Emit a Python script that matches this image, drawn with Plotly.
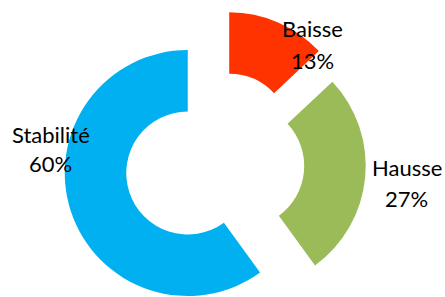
import plotly.graph_objects as go

labels = ["Baisse", "Hausse", "Stabilité"]
values = [13, 27, 60]
colors = ["#FF3300", "#9BBB59", "#00B0F0"]
pulls = [0.25, 0.21, 0.25]

# layout constants (window pixels)
OFF = 0
FIG_W, FIG_H = 445, 320
CX, CY = 217.2, 163.5          # pie centre in window pixels
RADIUS = 123                   # outer radius in pixels
HALF = RADIUS * (1 + max(pulls))
ML, MT, MB = 0, 0, 0
PW = 2 * (CX - OFF - ML)
MR = FIG_W - ML - PW
PH = FIG_H - MT - MB
box_top = CY - OFF - HALF
box_bot = CY - OFF + HALF

# label anchor positions in window pixels: (x, y_label, y_percent)
label_pos = [(313, 28, 60), (407, 167, 198), (51, 134, 163)]

fig = go.Figure(
    go.Pie(
        labels=labels,
        values=values,
        sort=False,
        direction="clockwise",
        rotation=0,
        hole=0.5,
        pull=pulls,
        marker=dict(colors=colors, line=dict(width=0)),
        textinfo="none",
        domain=dict(x=[0, 1], y=[(FIG_H - box_bot) / FIG_H, 1 - box_top / FIG_H]),
        showlegend=False,
        hoverinfo="skip",
    )
)

total = sum(values)
font = dict(family="Lato, Liberation Sans, sans-serif", size=22, color="#000000")
annotations = []
for lab, val, (x, y1, y2) in zip(labels, values, label_pos):
    pct = f"{round(100 * val / total)}%"
    for txt, yy in ((lab, y1), (pct, y2)):
        annotations.append(dict(
            text=txt, showarrow=False, font=font,
            xref="paper", yref="paper",
            x=(x - OFF - ML) / PW, y=1 - (yy - OFF - MT) / PH,
            xanchor="center", yanchor="middle",
        ))

fig.update_layout(
    width=FIG_W,
    height=FIG_H,
    margin=dict(l=ML, r=MR, t=MT, b=MB, autoexpand=False),
    paper_bgcolor="white",
    plot_bgcolor="white",
    showlegend=False,
    annotations=annotations,
)

fig.write_html(
    "out.html",
    config={"displayModeBar": False, "staticPlot": True},
    post_script="document.body.style.margin='0';document.body.style.overflow='hidden';",
)
